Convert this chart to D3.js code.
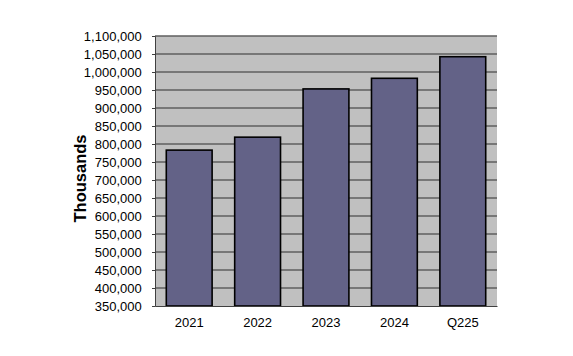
<!DOCTYPE html>
<html><head><meta charset="utf-8">
<script src="https://cdn.jsdelivr.net/npm/d3@7"></script>
<style>body{margin:0;background:#fff;} text{font-family:"Liberation Sans",Arial,sans-serif;}</style>
</head><body>
<svg id="c" width="573" height="356"></svg>
<script>
const categories = ["2021","2022","2023","2024","Q225"];
const values = [783000, 819000, 953000, 982500, 1042500];
const yTicks = d3.range(350000, 1100001, 50000);
const yLabel = "Thousands";

const svg = d3.select("#c");
const m = {left:155, right:497, top:36, bottom:306};
const x = d3.scaleBand().domain(categories).range([m.left, m.right]).paddingInner(0.33).paddingOuter(0.165);
const y = d3.scaleLinear().domain([350000, 1100000]).range([m.bottom, m.top]);

svg.append("rect").attr("x", m.left).attr("y", m.top).attr("width", m.right-m.left).attr("height", m.bottom-m.top).attr("fill", "#c0c0c0");

svg.append("g").selectAll("line").data(yTicks.slice(1)).join("line")
  .attr("x1", m.left).attr("x2", m.right).attr("y1", d=>y(d)).attr("y2", d=>y(d))
  .attr("stroke", "#5f5f5f").attr("stroke-width", 1.3);

svg.append("g").selectAll("rect").data(values).join("rect")
  .attr("x", (d,i)=>x(categories[i])).attr("width", x.bandwidth())
  .attr("y", d=>y(d)).attr("height", d=>m.bottom - y(d))
  .attr("fill", "#636287").attr("stroke", "#000").attr("stroke-width", 1.6);

const yAxis = d3.axisLeft(y).tickValues(yTicks).tickSize(3).tickFormat(d3.format(","));
const gy = svg.append("g").attr("transform", `translate(${m.left},0)`).call(yAxis);
gy.select(".domain").attr("stroke", "#404040");
gy.selectAll(".tick line").attr("stroke", "#404040");
gy.selectAll("text").attr("font-size", 13).attr("fill", "#000").attr("x", -13.3).attr("font-family", "Liberation Sans, Arial, sans-serif");

const xAxis = d3.axisBottom(x).tickSize(0).tickSizeOuter(0);
const gx = svg.append("g").attr("transform", `translate(0,${m.bottom})`).call(xAxis);
gx.select(".domain").attr("stroke", "#404040");
gx.selectAll("text").attr("font-size", 13).attr("fill", "#000").attr("y", 20.6).attr("dy", 0).attr("font-family", "Liberation Sans, Arial, sans-serif");

svg.append("text").attr("transform", "translate(86,178.5) rotate(-90)")
  .attr("text-anchor", "middle").attr("font-size", 16.5).attr("font-weight", "bold").text(yLabel);
</script>
</body></html>
